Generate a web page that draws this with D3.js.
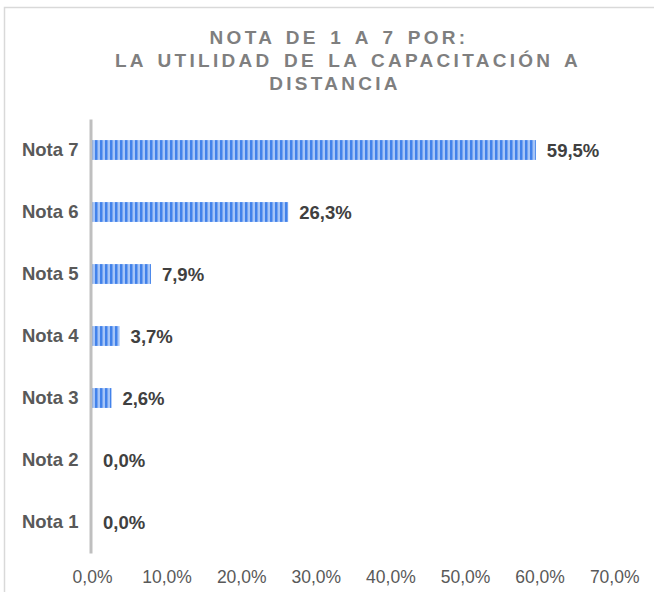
<!DOCTYPE html>
<html lang="es">
<head>
<meta charset="utf-8">
<script src="https://d3js.org/d3.v7.min.js"></script>
<style>
  body { margin: 0; background: #fff; }
  svg { display: block; font-family: "Liberation Sans", Arial, sans-serif; }
</style>
</head>
<body>
<div id="chart"></div>
<script>
// data
var categories = ["Nota 7", "Nota 6", "Nota 5", "Nota 4", "Nota 3", "Nota 2", "Nota 1"];
var values = [59.5, 26.3, 7.9, 3.7, 2.6, 0.0, 0.0];
var xTicks = [0, 10, 20, 30, 40, 50, 60, 70];
var titleLines = ["NOTA DE 1 A 7 POR:", "LA UTILIDAD DE LA CAPACITACIÓN A", "DISTANCIA"];
var titleCenters = [339, 348, 335];

var width = 654, height = 592;
var margin = { top: 119, bottom: 39, left: 92, right: 40 };

var svg = d3.select("#chart").append("svg")
    .attr("width", width)
    .attr("height", height);

// chart border
svg.append("rect")
    .attr("x", 4.5).attr("y", 7.5)
    .attr("width", width + 20).attr("height", height + 20)
    .attr("fill", "none")
    .attr("stroke", "#d9d9d9")
    .attr("stroke-width", 1.5);

// striped fill for the bars
var defs = svg.append("defs");
var pat = defs.append("pattern")
    .attr("id", "stripes")
    .attr("patternUnits", "userSpaceOnUse")
    .attr("width", 5).attr("height", 20);
pat.append("rect").attr("width", 5).attr("height", 20).attr("fill", "#a6c5f7");
pat.append("rect").attr("x", 0).attr("width", 2).attr("height", 20).attr("fill", "#4282ea");
pat.append("rect").attr("x", 2).attr("width", 1).attr("height", 20).attr("fill", "#74a3f0");

// title
svg.append("text")
    .attr("text-anchor", "middle")
    .attr("fill", "#7f7f7f")
    .attr("font-size", 19)
    .attr("font-weight", "bold")
    .attr("letter-spacing", 3.3)
    .attr("word-spacing", 2.8)
    .selectAll("tspan")
    .data(titleLines)
    .join("tspan")
    .attr("x", (d, i) => titleCenters[i])
    .attr("y", (d, i) => 44 + i * 23)
    .text(d => d);

var x = d3.scaleLinear()
    .domain([0, 70])
    .range([margin.left, margin.left + 74.6 * 7]);

var y = d3.scaleBand()
    .domain(categories)
    .range([margin.top, height - margin.bottom])
    .paddingInner(0.68)
    .paddingOuter(0.34);

// bars
svg.append("g")
    .selectAll("rect")
    .data(values)
    .join("rect")
    .attr("x", x(0))
    .attr("y", (d, i) => y(categories[i]))
    .attr("width", d => x(d) - x(0))
    .attr("height", y.bandwidth())
    .attr("fill", "url(#stripes)");

// value labels
svg.append("g")
    .selectAll("text")
    .data(values)
    .join("text")
    .attr("x", d => x(d) + 11)
    .attr("y", (d, i) => y(categories[i]) + y.bandwidth() / 2)
    .attr("dy", "0.36em")
    .attr("fill", "#404040")
    .attr("font-size", 18.5)
    .attr("font-weight", "bold")
    .text(d => d.toFixed(1).replace(".", ",") + "%");

// y axis
var yAxis = g => g
    .attr("transform", `translate(${margin.left - 1.5},0)`)
    .call(d3.axisLeft(y).tickSize(0).tickPadding(12))
    .call(g => g.select(".domain").attr("stroke", "#bfbfbf").attr("stroke-width", 3))
    .call(g => g.selectAll("text")
        .attr("fill", "#595959")
        .attr("font-size", 18.5)
        .attr("font-weight", "bold")
        .attr("font-family", "Liberation Sans, Arial, sans-serif"));
svg.append("g").call(yAxis);

// x axis (labels only)
var xAxis = g => g
    .attr("transform", `translate(0,583)`)
    .call(d3.axisBottom(x).tickValues(xTicks).tickSize(0)
        .tickFormat(d => d.toFixed(1).replace(".", ",") + "%"))
    .call(g => g.select(".domain").remove())
    .call(g => g.selectAll("text")
        .attr("y", 0)
        .attr("dy", "0")
        .attr("fill", "#595959")
        .attr("font-size", 17.5)
        .attr("font-family", "Liberation Sans, Arial, sans-serif"));
svg.append("g").call(xAxis);
</script>
</body>
</html>
